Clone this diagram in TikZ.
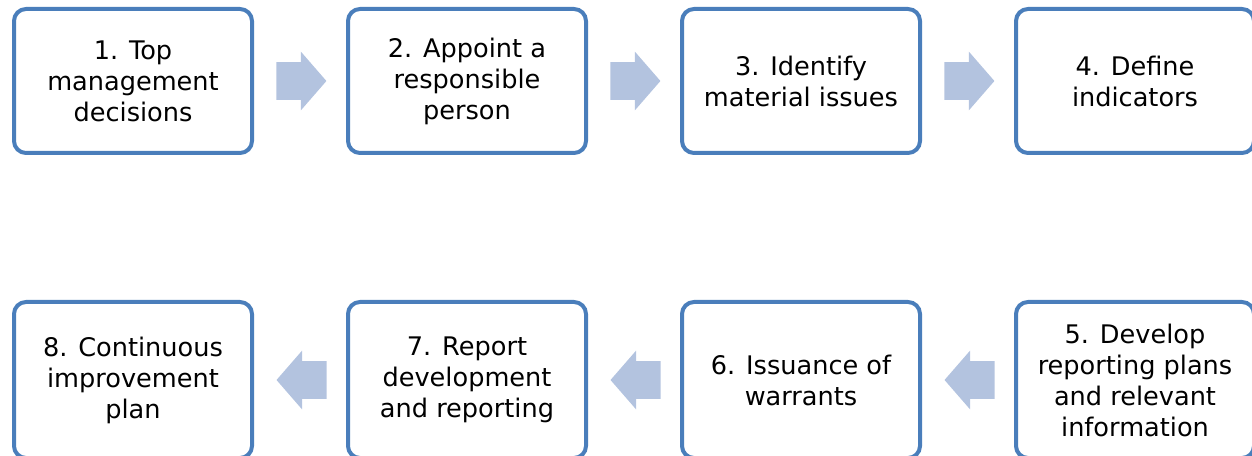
\documentclass[tikz,border=0pt]{standalone}
\usepackage{fontspec}
\setmainfont{DejaVu Sans}
\usepackage{tikz}
\usetikzlibrary{shapes,arrows,positioning}
\definecolor{boxblue}{HTML}{4A7EBB}
\definecolor{arrowblue}{HTML}{B3C3DF}
\tikzstyle{stepbox} = [rectangle, rounded corners=6pt, draw=boxblue, line width=2pt, outer sep=0pt, minimum width=119pt, align=center, font=\fontsize{12.8}{15.5}\selectfont]
\tikzstyle{blockarrow} = [single arrow, fill=arrowblue, draw=none, inner xsep=0pt, inner ysep=9.25pt, minimum height=25pt, single arrow head extend=5.25pt, single arrow head indent=0pt, single arrow tip angle=98]

\begin{document}
\begin{tikzpicture}[x=0.5pt, y=0.5pt]
        \useasboundingbox (0,0) rectangle (1252,455);
        
        % first row
        \node (1) [stepbox, minimum height=72pt] at (133,374) {1. Top \\ management \\ decisions};
        \node (2) [stepbox, minimum height=72pt, right=48pt of 1] {2. Appoint a \\ responsible \\ person};
        \node (3) [stepbox, minimum height=72pt, right=48pt of 2] {3. Identify \\ material issues};
        \node (4) [stepbox, minimum height=72pt, right=48pt of 3] {4. Define \\ indicators};
        
        % second row
        \node (5) [stepbox, minimum height=78pt, below=74.5pt of 4] {5. Develop \\ reporting plans \\ and relevant \\ information};
        \node (6) [stepbox, minimum height=78pt, left=48pt of 5] {6. Issuance of \\ warrants};
        \node (7) [stepbox, minimum height=78pt, left=48pt of 6] {7. Report \\ development \\ and reporting};
        \node (8) [stepbox, minimum height=78pt, left=48pt of 7] {8. Continuous \\ improvement \\ plan};
        
        \node (a12) [blockarrow, anchor=tail] at ([xshift=12pt]1.east) {};
        \node (a23) [blockarrow, anchor=tail] at ([xshift=12pt]2.east) {};
        \node (a34) [blockarrow, anchor=tail] at ([xshift=12pt]3.east) {};
        \node (a56) [blockarrow, shape border rotate=180, anchor=tip] at ([xshift=12pt]6.east) {};
        \node (a67) [blockarrow, shape border rotate=180, anchor=tip] at ([xshift=12pt]7.east) {};
        \node (a78) [blockarrow, shape border rotate=180, anchor=tip] at ([xshift=12pt]8.east) {};
        
    \end{tikzpicture}
\end{document}
